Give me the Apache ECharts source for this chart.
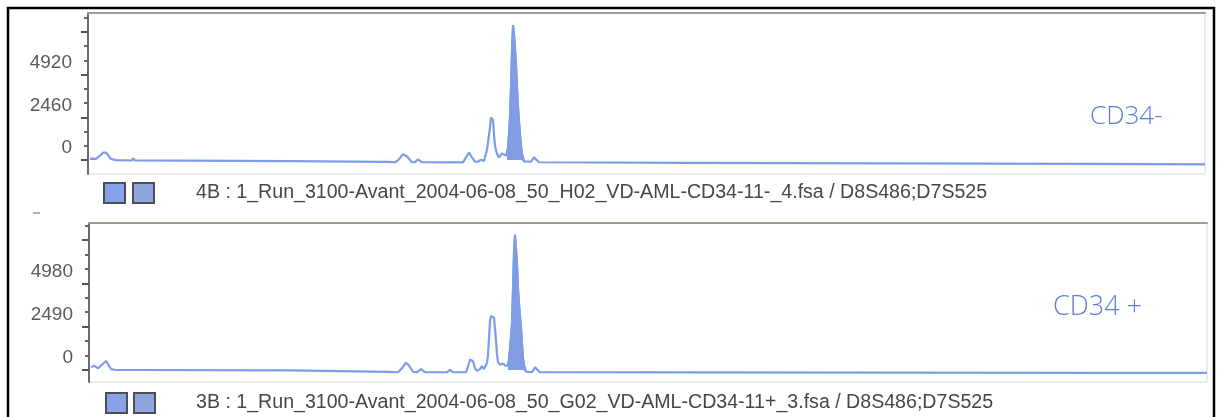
<!DOCTYPE html>
<html>
<head>
<meta charset="utf-8">
<script src="https://cdn.jsdelivr.net/npm/echarts@6/dist/echarts.min.js"></script>
<style>
  html, body { margin: 0; padding: 0; background: #ffffff; }
  #chart { width: 1221px; height: 417px; }
</style>
</head>
<body>
<div id="chart"></div>
<script>
// ---- Data ----
const title1 = "4B : 1_Run_3100-Avant_2004-06-08_50_H02_VD-AML-CD34-11-_4.fsa / D8S486;D7S525";
const title2 = "3B : 1_Run_3100-Avant_2004-06-08_50_G02_VD-AML-CD34-11+_3.fsa / D8S486;D7S525";
const note1 = "CD34-";
const note2 = "CD34 +";

const yTicks1 = [0, 2460, 4920, 7380];
const yLabels1 = [0, 2460, 4920];
const yTicks2 = [0, 2490, 4980, 7470];
const yLabels2 = [0, 2490, 4980];

// panel 1 trace (scan position, RFU)
const x1 = [2, 5, 8, 12, 15, 18, 20, 23, 28, 44, 45, 47, 100, 200, 300, 307, 310, 315, 319, 324,
  327, 330, 334, 375, 378, 381, 384, 387, 390, 393, 396, 397, 399, 400, 402, 403, 404, 405, 406, 407,
  409, 411, 412, 414, 416, 418, 419, 420, 421, 422, 423, 424, 425, 426, 427, 428, 429, 430, 431, 432,
  433, 434, 436, 443, 446, 448, 451, 600, 800, 1000, 1117];
const y1 = [60, 80, 60, 250, 420, 430, 380, 60, -10, -30, 110, -30, -40, -70, -110, -130, -20, 330, 200, -130,
  -120, 40, -130, -140, 150, 420, 150, -100, -90, 20, -60, 0, 600, 1000, 1900, 2450, 2540, 2300, 1500, 800,
  350, 150, 250, 380, 300, 250, 300, 700, 1500, 2500, 4200, 6300, 7780, 7300, 6400, 5500, 4200, 3100, 2200, 1500,
  800, 350, -80, -100, 150, 120, -130, -160, -190, -220, -250];

// panel 2 trace
const x2 = [2, 5, 9, 13, 17, 19, 22, 27, 43, 44, 46, 200, 300, 309, 313, 317, 320, 324, 328, 332,
  336, 358, 361, 364, 377, 379, 381, 382, 384, 386, 388, 391, 393, 395, 396, 398, 399, 400, 401, 402,
  404, 405, 406, 407, 408, 409, 411, 412, 414, 416, 418, 419, 420, 421, 422, 423, 424, 425, 426, 427,
  428, 429, 430, 431, 432, 433, 434, 435, 437, 443, 446, 448, 451, 600, 800, 1000, 1118];
const y2 = [150, 250, 100, 300, 520, 420, 50, 0, 0, 100, 0, -20, -110, -130, 100, 420, 250, -100, -120, 50,
  -120, -130, 0, -130, -120, 200, 600, 670, 500, 100, -50, 50, 220, 50, 50, 400, 900, 1800, 2800, 3100,
  3100, 3000, 2400, 1700, 900, 450, 300, 250, 380, 250, 300, 250, 600, 1200, 1900, 2700, 4700, 6800, 7775, 7000,
  6100, 4700, 3800, 3100, 2400, 1500, 700, 250, -100, -120, 150, 100, -130, -140, -150, -160, -170];

// saturated (filled) peak windows
const fill1 = [419, 436];
const fill2 = [419, 437];

// ---- build ----
const pairs = (xs, ys) => xs.map((x, i) => [x, ys[i]]);
const windowed = (xs, ys, w) => pairs(xs, ys).filter(p => p[0] >= w[0] && p[0] <= w[1]);
const minorFrom = (ticks, n, max) => {
  const step = ticks[1] / n, out = [];
  for (let v = step; v <= max; v += step) {
    if (Math.abs(v / ticks[1] - Math.round(v / ticks[1])) > 1e-6) out.push(Math.round(v));
  }
  return out;
};

const LINE = '#7c9de8';
const FILL = '#7b98e2';
const FONT = 'Liberation Sans, Arial, sans-serif';

const grids = [
  { left: 88, top: 13, right: 16, height: 161 },
  { left: 89, top: 223, right: 14, height: 159 }
];
const yr = [{ min: -807, max: 8475 }, { min: -690, max: 8447 }];
const xr = [{ min: 0, max: 1117 }, { min: 0, max: 1118 }];
const ticks = [yTicks1, yTicks2];
const labels = [yLabels1, yLabels2];

const chart = echarts.init(document.getElementById('chart'), null, { renderer: 'canvas' });

const xAxis = [], yAxis = [], grid = [], series = [];
[0, 1].forEach(g => {
  grid.push(Object.assign({ show: true, borderColor: '#dedad2', borderWidth: 1, backgroundColor: 'transparent' }, grids[g]));
  xAxis.push({ type: 'value', gridIndex: g, min: xr[g].min, max: xr[g].max, position: 'bottom',
    axisLine: { show: false, onZero: false }, axisTick: { show: false }, axisLabel: { show: false }, splitLine: { show: false } });
  xAxis.push({ type: 'value', gridIndex: g, min: xr[g].min, max: xr[g].max, position: 'top',
    axisLine: { show: true, onZero: false, lineStyle: { color: '#a09a92', width: 2 } }, axisTick: { show: false },
    axisLabel: { show: false }, splitLine: { show: false } });
  yAxis.push({ type: 'value', gridIndex: g, min: yr[g].min, max: yr[g].max, position: 'left',
    axisLine: { show: true, onZero: false, lineStyle: { color: '#6c6c6c', width: 2 } },
    axisTick: { show: true, length: 7, customValues: ticks[g], lineStyle: { color: '#555', width: 2 } },
    axisLabel: { show: true, customValues: labels[g], margin: 16, fontFamily: FONT, fontSize: 19,
      color: '#5a5a5a', verticalAlign: 'bottom', lineHeight: 24, formatter: v => String(v) },
    splitLine: { show: false } });
  yAxis.push({ type: 'value', gridIndex: g, min: yr[g].min, max: yr[g].max, position: 'left',
    axisLine: { show: false, onZero: false },
    axisTick: { show: true, length: 4, customValues: minorFrom(ticks[g], 3, yr[g].max), lineStyle: { color: '#666', width: 2 } },
    axisLabel: { show: false }, splitLine: { show: false } });
});

const data = [[x1, y1, fill1], [x2, y2, fill2]];
data.forEach((d, g) => {
  series.push({ type: 'line', xAxisIndex: g * 2, yAxisIndex: g * 2, data: windowed(d[0], d[1], d[2]),
    showSymbol: false, silent: true, lineStyle: { color: FILL, width: 2 },
    areaStyle: { color: FILL, opacity: 0.95 }, z: 3 });
  series.push({ type: 'line', xAxisIndex: g * 2, yAxisIndex: g * 2, data: pairs(d[0], d[1]),
    showSymbol: false, silent: true, lineStyle: { color: LINE, width: 2.2 }, z: 4 });
});

const square = (x, y, fill) => ({ type: 'rect', shape: { x: x, y: y, width: 21, height: 20 },
  style: { fill: fill, stroke: '#4e4e4e', lineWidth: 2 } });

chart.setOption({
  animation: false,
  backgroundColor: '#ffffff',
  title: [
    { text: title1, left: 196, top: 183, padding: 0,
      textStyle: { fontFamily: FONT, fontSize: 19.6, fontWeight: 'normal', color: '#474747' } },
    { text: title2, left: 196, top: 393, padding: 0,
      textStyle: { fontFamily: FONT, fontSize: 19.6, fontWeight: 'normal', color: '#474747' } }
  ],
  grid: grid, xAxis: xAxis, yAxis: yAxis, series: series,
  graphic: [
    { type: 'rect', shape: { x: 8, y: 8, width: 1206, height: 430 },
      style: { fill: 'none', stroke: '#000', lineWidth: 2.5 }, z: 10 },
    square(104, 183, '#86a3ea'), square(133, 183, '#8ca5dc'),
    square(106, 393, '#86a3ea'), square(134, 393, '#8ca5dc'),
    { type: 'line', shape: { x1: 33, y1: 213, x2: 40, y2: 213 }, style: { stroke: '#999', lineWidth: 1.5 } },
    { type: 'text', x: 1090, y: 104, style: { text: note1, fontFamily: 'Open Sans, DejaVu Sans, sans-serif',
      fontWeight: 300, fontSize: 26, fill: '#5d7ed8' } },
    { type: 'text', x: 1053, y: 294, style: { text: note2, fontFamily: 'Open Sans, DejaVu Sans, sans-serif',
      fontWeight: 300, fontSize: 27, fill: '#5d7ed8' } }
  ]
});
</script>
</body>
</html>
